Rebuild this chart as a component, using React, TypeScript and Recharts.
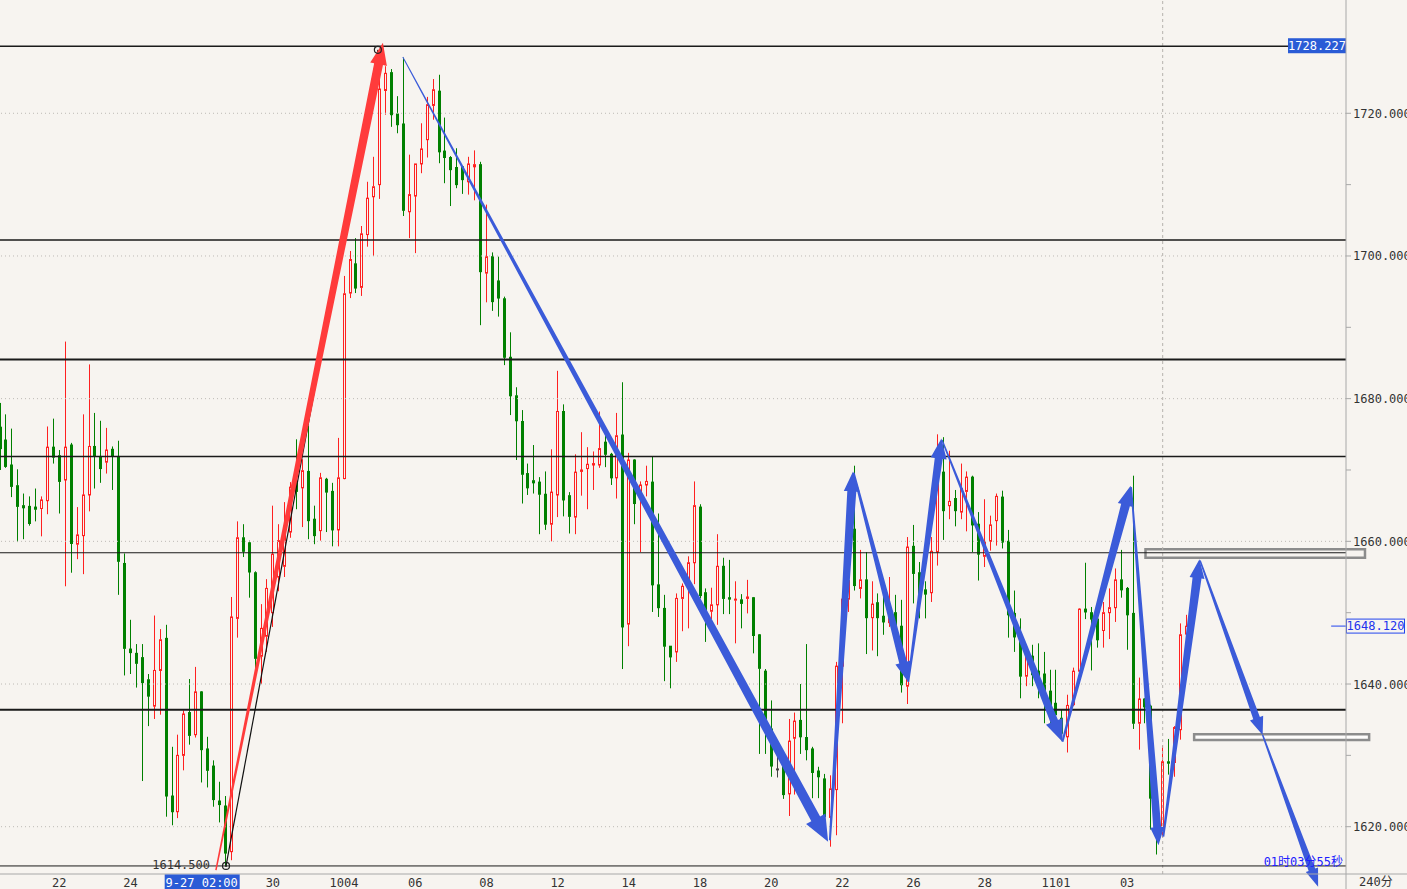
import React from 'react';
import { ComposedChart, Bar, XAxis, YAxis, ReferenceLine, ReferenceArea, ReferenceDot } from 'recharts';

// ---------- DATA ----------
const OPEN = [
  1676.0, 1674.2, 1670.7, 1667.8, 1665.0, 1664.9, 1664.8, 1664.6, 1665.7, 1673.2,
  1672.0, 1668.6, 1673.5, 1659.6, 1660.8, 1666.5, 1673.3, 1671.9, 1671.1, 1672.9,
  1671.9, 1656.9, 1644.9, 1644.3, 1643.7, 1640.6, 1636.9, 1641.9, 1646.4, 1624.3,
  1622.1, 1630.0, 1636.0, 1632.9, 1638.9, 1630.9, 1628.5, 1623.6, 1622.9, 1616.5,
  1649.2, 1660.5, 1659.8, 1655.6, 1643.9, 1646.7, 1650.0, 1655.0, 1656.5, 1661.3,
  1668.2, 1667.5, 1669.8, 1663.1, 1661.5, 1668.7, 1667.0, 1661.6, 1668.8, 1694.8,
  1698.9, 1695.6, 1703.0, 1708.3, 1710.0, 1723.2, 1725.7, 1719.9, 1718.5, 1706.2,
  1708.4, 1712.9, 1716.3, 1721.1, 1723.1, 1714.7, 1713.8, 1712.4, 1712.5, 1710.4,
  1712.5, 1712.8, 1697.6, 1699.9, 1696.5, 1694.0, 1685.8, 1680.4, 1676.8, 1669.5,
  1668.5, 1668.3, 1666.6, 1662.4, 1666.5, 1678.2, 1666.4, 1663.4, 1669.8, 1670.2,
  1670.7, 1670.7, 1673.9, 1672.2, 1668.9, 1674.9, 1648.4, 1671.4, 1666.0, 1667.9,
  1668.3, 1653.9, 1650.6, 1645.3, 1644.5, 1652.0, 1653.7, 1657.0, 1664.8, 1652.8,
  1650.2, 1651.1, 1656.5, 1652.1, 1651.8, 1651.8, 1652.0, 1652.1, 1646.9, 1641.8,
  1633.7, 1628.1, 1628.5, 1624.6, 1632.4, 1634.9, 1632.5, 1630.9, 1627.8, 1626.7,
  1621.3, 1625.2, 1642.5, 1651.9, 1661.7, 1653.4, 1654.6, 1649.3, 1651.4, 1649.5,
  1648.6, 1650.0, 1648.1, 1639.7, 1659.3, 1655.6, 1653.2, 1652.8, 1658.5, 1669.7,
  1665.0, 1666.0, 1664.1, 1667.0, 1669.0, 1662.4, 1657.9, 1660.0, 1662.9, 1666.2,
  1660.0, 1649.9, 1646.7, 1641.1, 1643.9, 1641.8, 1641.4, 1639.0, 1637.3, 1635.2,
  1632.6, 1637.1, 1641.8, 1650.5, 1650.0, 1649.1, 1647.5, 1650.0, 1650.7, 1654.6,
  1653.4, 1649.9, 1634.5, 1637.9, 1636.9, 1624.0, 1619.6, 1629.1, 1629.0, 1633.6,
  1647.0,
];
const HIGH = [
  1679.4, 1677.8, 1675.8, 1670.1, 1666.7, 1666.3, 1667.4, 1666.3, 1676.1, 1677.2,
  1672.8, 1688.0, 1673.8, 1664.8, 1677.8, 1684.8, 1678.0, 1676.9, 1675.9, 1673.3,
  1674.1, 1658.3, 1649.0, 1645.6, 1645.6, 1641.4, 1649.6, 1647.7, 1648.3, 1631.2,
  1632.9, 1636.3, 1640.7, 1642.4, 1639.0, 1632.6, 1629.3, 1626.3, 1624.3, 1652.2,
  1662.8, 1662.4, 1660.1, 1655.8, 1651.2, 1654.7, 1665.0, 1662.4, 1665.5, 1668.3,
  1674.3, 1671.5, 1676.2, 1665.0, 1669.6, 1668.9, 1668.2, 1674.5, 1697.2, 1700.7,
  1702.5, 1704.2, 1710.4, 1713.9, 1726.0, 1726.6, 1726.2, 1722.4, 1727.8, 1714.2,
  1712.9, 1718.6, 1722.3, 1724.8, 1725.4, 1719.4, 1714.0, 1715.1, 1712.6, 1713.9,
  1714.8, 1713.2, 1707.2, 1700.5, 1699.9, 1694.3, 1689.3, 1681.6, 1678.4, 1670.9,
  1673.5, 1669.0, 1669.8, 1672.9, 1683.9, 1679.2, 1666.9, 1672.2, 1675.3, 1673.2,
  1672.6, 1678.2, 1676.0, 1672.4, 1678.0, 1682.3, 1672.4, 1671.5, 1668.4, 1670.6,
  1671.9, 1663.9, 1652.5, 1645.3, 1652.7, 1654.1, 1657.9, 1668.4, 1665.2, 1653.4,
  1653.5, 1661.0, 1657.7, 1657.4, 1654.4, 1652.6, 1654.6, 1652.2, 1647.0, 1642.1,
  1637.7, 1629.9, 1629.5, 1635.1, 1636.0, 1640.0, 1645.6, 1631.2, 1628.4, 1627.4,
  1627.2, 1643.1, 1652.0, 1654.6, 1670.6, 1658.8, 1658.5, 1654.4, 1652.7, 1652.8,
  1655.0, 1652.5, 1651.8, 1660.6, 1662.3, 1657.1, 1654.4, 1660.6, 1675.0, 1674.6,
  1672.7, 1667.2, 1670.9, 1669.8, 1669.2, 1664.1, 1665.9, 1663.6, 1666.7, 1667.1,
  1661.6, 1653.1, 1649.2, 1644.4, 1645.5, 1645.7, 1644.5, 1642.0, 1642.0, 1636.4,
  1638.5, 1642.3, 1650.6, 1657.0, 1650.8, 1651.4, 1651.5, 1653.4, 1656.2, 1658.8,
  1653.6, 1669.2, 1640.9, 1638.0, 1637.1, 1625.5, 1631.4, 1632.3, 1634.1, 1648.5,
  1649.7,
];
const LOW = [
  1670.0, 1670.3, 1666.2, 1659.9, 1660.3, 1662.2, 1662.8, 1660.7, 1663.8, 1670.9,
  1663.9, 1653.7, 1655.6, 1657.5, 1655.4, 1664.2, 1667.4, 1668.2, 1669.5, 1667.2,
  1652.5, 1641.2, 1641.4, 1639.5, 1626.4, 1634.1, 1635.1, 1635.7, 1621.4, 1620.2,
  1621.2, 1627.9, 1631.5, 1632.5, 1626.2, 1625.5, 1622.8, 1620.6, 1614.5, 1615.3,
  1646.5, 1657.8, 1652.1, 1641.5, 1640.0, 1644.5, 1648.0, 1653.0, 1655.0, 1660.5,
  1664.5, 1662.0, 1660.3, 1659.6, 1660.1, 1661.3, 1659.3, 1659.3, 1668.7, 1694.1,
  1694.8, 1694.4, 1701.3, 1700.0, 1708.0, 1719.8, 1718.1, 1717.2, 1705.6, 1702.5,
  1700.4, 1711.6, 1713.8, 1719.1, 1713.0, 1710.2, 1707.0, 1709.5, 1708.7, 1708.6,
  1707.8, 1690.3, 1693.5, 1692.3, 1691.5, 1684.7, 1677.7, 1671.4, 1665.3, 1666.5,
  1666.7, 1661.0, 1661.6, 1660.0, 1663.4, 1663.5, 1661.1, 1661.0, 1666.4, 1664.5,
  1667.2, 1670.3, 1670.4, 1667.9, 1666.0, 1642.1, 1645.3, 1662.4, 1658.5, 1666.3,
  1650.1, 1649.4, 1640.4, 1639.4, 1643.1, 1647.4, 1647.8, 1654.0, 1652.0, 1645.9,
  1649.1, 1648.3, 1649.8, 1649.8, 1645.7, 1647.8, 1649.9, 1644.3, 1630.2, 1630.2,
  1627.0, 1626.9, 1623.9, 1621.5, 1624.5, 1630.2, 1629.3, 1624.0, 1624.0, 1621.3,
  1617.2, 1618.8, 1634.5, 1650.1, 1653.1, 1652.0, 1644.2, 1644.7, 1643.9, 1646.9,
  1648.0, 1646.1, 1638.8, 1637.2, 1651.3, 1649.2, 1649.2, 1651.5, 1656.6, 1660.2,
  1663.1, 1662.1, 1663.1, 1661.4, 1658.5, 1654.5, 1656.4, 1658.7, 1659.4, 1659.0,
  1646.5, 1644.5, 1638.0, 1639.7, 1639.7, 1638.0, 1634.5, 1634.5, 1635.4, 1632.1,
  1630.4, 1636.9, 1641.5, 1649.1, 1641.9, 1645.1, 1645.1, 1646.3, 1648.7, 1652.1,
  1644.8, 1633.7, 1630.8, 1634.5, 1619.6, 1616.1, 1618.5, 1627.3, 1627.0, 1632.2,
  1645.5,
];
const CLOSE = [
  1673.0, 1670.5, 1667.7, 1664.9, 1664.7, 1662.5, 1664.5, 1665.8, 1673.2, 1671.8,
  1668.4, 1673.2, 1659.7, 1660.9, 1666.5, 1673.3, 1671.9, 1670.2, 1672.8, 1671.9,
  1657.2, 1645.0, 1644.4, 1642.9, 1640.2, 1638.3, 1641.9, 1646.2, 1624.3, 1622.1,
  1630.0, 1635.8, 1632.8, 1638.9, 1630.8, 1627.9, 1623.8, 1623.1, 1616.3, 1649.4,
  1660.5, 1658.6, 1655.7, 1643.6, 1647.8, 1653.4, 1658.2, 1660.1, 1661.3, 1667.6,
  1667.0, 1669.9, 1662.9, 1660.8, 1668.9, 1666.9, 1661.6, 1668.9, 1694.7, 1699.5,
  1695.5, 1703.1, 1708.1, 1709.7, 1723.4, 1725.6, 1719.8, 1718.4, 1706.4, 1708.6,
  1712.9, 1715.0, 1721.2, 1723.3, 1714.6, 1713.8, 1712.1, 1710.0, 1710.7, 1712.9,
  1712.8, 1697.8, 1699.9, 1693.6, 1694.1, 1685.8, 1680.4, 1676.9, 1669.4, 1667.5,
  1668.2, 1666.6, 1662.4, 1666.9, 1678.2, 1665.8, 1663.5, 1669.7, 1670.0, 1670.8,
  1670.9, 1673.0, 1672.2, 1668.9, 1674.8, 1648.0, 1671.4, 1665.3, 1667.9, 1668.4,
  1653.9, 1650.7, 1645.3, 1643.8, 1652.0, 1653.7, 1657.0, 1665.0, 1652.4, 1649.6,
  1651.1, 1656.5, 1652.0, 1651.9, 1651.9, 1651.3, 1652.2, 1646.8, 1642.2, 1633.3,
  1628.5, 1628.1, 1624.5, 1632.0, 1634.8, 1632.6, 1630.8, 1627.6, 1627.0, 1621.4,
  1625.3, 1642.5, 1651.9, 1654.5, 1653.8, 1654.6, 1649.3, 1651.2, 1649.3, 1648.7,
  1649.8, 1648.0, 1639.9, 1659.2, 1655.5, 1652.4, 1652.6, 1658.6, 1669.7, 1664.3,
  1665.6, 1664.3, 1667.4, 1669.0, 1662.3, 1658.2, 1659.9, 1662.3, 1666.3, 1659.9,
  1649.7, 1646.6, 1641.1, 1643.9, 1641.3, 1640.1, 1638.0, 1635.9, 1635.7, 1633.1,
  1637.0, 1641.8, 1650.5, 1650.1, 1649.1, 1646.2, 1650.0, 1650.7, 1654.6, 1653.2,
  1649.7, 1634.5, 1637.9, 1636.8, 1624.0, 1619.6, 1629.1, 1628.9, 1633.9, 1646.9,
  1648.1,
];

const X_TICKS = [10, 22, 34, 46, 58, 70, 82, 94, 106, 118, 130, 142, 154, 166, 178, 190];
const X_LABELS = ['22', '24', '9-27 02:00', '30', '1004', '06', '08', '12', '14', '18', '20', '22', '26', '28', '1101', '03'];
const Y_TICKS = [1620, 1630, 1640, 1650, 1660, 1670, 1680, 1690, 1700, 1710, 1720];
const Y_LABELED = [1620, 1640, 1660, 1680, 1700, 1720];
const LEVELS = [1729.4, 1702.25, 1685.5, 1671.9, 1658.4, 1636.4, 1614.5];
const TOP_LEVEL_LABEL = '1728.227';
const LAST_PRICE = 1648.12;
const LOW_POINT = [38.1, 1614.5];
const HIGH_POINT = [63.7, 1728.9];
const CURSOR_INDEX = 196;
const HIGHLIGHT_TICK = 34;
// arrows: [fromIndex, fromPrice, toIndex, toPrice]
const ARROWS = [
  [36.4, 1613.9, 64.55, 1729.9],
  [67.9, 1727.9, 139.6, 1617.9],
  [139.9, 1618.1, 143.8, 1669.8],
  [143.9, 1669.6, 153.1, 1640.3],
  [153.1, 1640.3, 158.7, 1674.4],
  [158.8, 1674.2, 179.1, 1631.9],
  [179.1, 1631.9, 190.6, 1667.8],
  [190.7, 1667.6, 195.3, 1617.4],
  [196.1, 1618.6, 202.2, 1657.5],
  [202.3, 1657.3, 212.85, 1632.85],
  [212.85, 1632.85, 222.2, 1611.6],
];
// boxes: [fromIndex, toIndex, lowPrice, highPrice]
const BOXES = [
  [193.1, 230.1, 1657.7, 1658.88],
  [201.3, 230.8, 1632.15, 1632.95],
];

// ---------- STYLE ----------
const BG = '#f7f4f0';
const RED = '#ff2020';
const GREEN = '#008000';
const BLUE = '#3b5bd9';
const ARROW_RED = '#ff3b3b';
const FONT = '"DejaVu Sans Mono", "Liberation Mono", monospace';
const X_MAX = 226.9;
const Y_MIN = 1613.37;
const Y_MAX = 1735.88;
const ARROW_STYLE = [
  { color: ARROW_RED, tw: 1.5, sw: 9, hw: 17, hl: 22 },
  { color: BLUE, tw: 1, sw: 10, hw: 22, hl: 26 },
  { color: BLUE, tw: 2, sw: 9, hw: 16, hl: 20 },
  { color: BLUE, tw: 2, sw: 8, hw: 16, hl: 20 },
  { color: BLUE, tw: 2, sw: 8, hw: 16, hl: 20 },
  { color: BLUE, tw: 1.5, sw: 8, hw: 18, hl: 22 },
  { color: BLUE, tw: 2, sw: 9, hw: 16, hl: 20 },
  { color: BLUE, tw: 1.5, sw: 8, hw: 14, hl: 18 },
  { color: BLUE, tw: 2, sw: 9, hw: 15, hl: 19 },
  { color: BLUE, tw: 1.5, sw: 7, hw: 14, hl: 18 },
  { color: BLUE, tw: 1.5, sw: 7, hw: 13, hl: 18 },
];
const LEVEL_WIDTH = [1.5, 1.5, 2, 1.5, 1, 2, 1];

const rows = OPEN.map((o, i) => ({ i, o, h: HIGH[i], l: LOW[i], c: CLOSE[i], range: [LOW[i], HIGH[i]] }));

const Candle = (props: any) => {
  const { x, y, width, height, payload } = props;
  if (x == null || payload == null) return null;
  const { o, h, l, c } = payload;
  const top = Math.min(y, y + height);
  const hh = Math.abs(height);
  const k = h - l > 0 ? hh / (h - l) : 0;
  const yOf = (v: number) => top + (h - v) * k;
  const n = Math.floor(x + width / 2);
  const cx = n + 0.5;
  const up = c > o;
  const doji = c === o;
  const color = doji ? '#444' : up ? RED : GREEN;
  const bTop = yOf(Math.max(o, c));
  const bBot = yOf(Math.min(o, c));
  const bh = Math.max(bBot - bTop, 1);
  return (
    <g>
      <line x1={cx} x2={cx} y1={top} y2={bTop} stroke={color} strokeWidth={1} />
      <line x1={cx} x2={cx} y1={bTop + bh} y2={top + hh} stroke={color} strokeWidth={1} />
      {up ? (
        <rect x={n - 0.5} y={bTop} width={2} height={bh} fill={BG} stroke={color} strokeWidth={1} />
      ) : (
        <rect x={n - 1} y={bTop - 0.5} width={3} height={bh + 1} fill={color} />
      )}
    </g>
  );
};

const makeArrow = (st: any) => (p: any) => {
  const { x1, y1, x2, y2 } = p;
  const dx = x2 - x1, dy = y2 - y1;
  const len = Math.sqrt(dx * dx + dy * dy) || 1;
  const ux = dx / len, uy = dy / len;
  const nx = -uy, ny = ux;
  const bx = x2 - ux * st.hl, by = y2 - uy * st.hl;
  const pts = [
    [x1 + nx * st.tw / 2, y1 + ny * st.tw / 2],
    [bx + nx * st.sw / 2, by + ny * st.sw / 2],
    [bx + nx * st.hw / 2, by + ny * st.hw / 2],
    [x2, y2],
    [bx - nx * st.hw / 2, by - ny * st.hw / 2],
    [bx - nx * st.sw / 2, by - ny * st.sw / 2],
    [x1 - nx * st.tw / 2, y1 - ny * st.tw / 2],
  ];
  return <polygon points={pts.map((q) => q.join(',')).join(' ')} fill={st.color} />;
};

const XTick = (props: any) => {
  const { x, y, payload } = props;
  const idx = X_TICKS.indexOf(payload.value);
  const label = X_LABELS[idx] ?? '';
  const hl = payload.value === HIGHLIGHT_TICK;
  return (
    <g>
      {hl && <rect x={x - 37} y={y + 0.5} width={75} height={15} fill="#2a5bd6" />}
      <text x={x} y={y + 9} textAnchor="middle" dominantBaseline="middle" fontFamily={FONT} fontSize={12} fill={hl ? '#ffffff' : '#333333'}>
        {label}
      </text>
    </g>
  );
};

const YTick = (props: any) => {
  const { x, y, payload } = props;
  if (!Y_LABELED.includes(payload.value)) return <g />;
  return (
    <text x={x} y={y + 1} textAnchor="start" dominantBaseline="middle" fontFamily={FONT} fontSize={12} fill="#333333">
      {payload.value.toFixed(3)}
    </text>
  );
};

const TopLevelShape = (p: any) => {
  const left = Math.min(p.x1, p.x2);
  const right = Math.max(p.x1, p.x2);
  const y = p.y1;
  return (
    <g>
      <line x1={left} x2={right - 58} y1={y} y2={y} stroke="#1a1a1a" strokeWidth={1.5} />
      <rect x={right - 58} y={y - 8} width={58} height={15} fill="#2a5bd6" />
      <text x={right - 29} y={y} textAnchor="middle" dominantBaseline="middle" fontFamily={FONT} fontSize={12} fill="#ffffff">
        {TOP_LEVEL_LABEL}
      </text>
    </g>
  );
};

const LastPriceShape = (p: any) => {
  const left = Math.min(p.x1, p.x2);
  const right = Math.max(p.x1, p.x2);
  const y = p.y1;
  return (
    <g>
      <line x1={left} x2={right} y1={y} y2={y} stroke="#2244ee" strokeWidth={1} />
      <rect x={right + 0.5} y={y - 7} width={58} height={14} fill={BG} stroke="#2244ee" strokeWidth={1} />
      <text x={right + 29.5} y={y + 0.5} textAnchor="middle" dominantBaseline="middle" fontFamily={FONT} fontSize={12} fill="#2233ee">
        {LAST_PRICE.toFixed(3)}
      </text>
    </g>
  );
};

const LowMarker = (p: any) => {
  const { cx, cy } = p;
  return (
    <g>
      <text x={cx - 16} y={cy} textAnchor="end" dominantBaseline="middle" fontFamily={FONT} fontSize={12} fill="#333333">
        {LOW_POINT[1].toFixed(3)}
      </text>
      <circle cx={cx} cy={cy} r={3.5} fill="none" stroke="#222" strokeWidth={1.2} />
      <circle cx={cx} cy={cy} r={1} fill="#222" />
    </g>
  );
};

const HighMarker = (p: any) => {
  const { cx, cy } = p;
  return <circle cx={cx} cy={cy} r={3.5} fill="none" stroke="#222" strokeWidth={1.2} />;
};

const Countdown = (p: any) => {
  const { cx, cy } = p;
  return (
    <text x={cx - 3} y={cy} textAnchor="end" dominantBaseline="middle" fontFamily={'"DejaVu Sans Mono", "Noto Sans CJK SC", monospace'} fontSize={12} fill="#2020ff">
      01时03分55秒
    </text>
  );
};

export default function App() {
  return (
    <div style={{ position: 'absolute', left: 0, top: 0, width: 1407, height: 889, background: BG, overflow: 'hidden' }}>
      <ComposedChart width={1407} height={889} data={rows} margin={{ top: 0, right: 0, bottom: 0, left: 0 }}>
        <XAxis
          dataKey="i"
          type="number"
          domain={[0, X_MAX]}
          ticks={X_TICKS}
          allowDataOverflow
          tickLine={false}
          tickSize={0}
          tickMargin={0}
          height={15}
          interval={0}
          stroke="#a8a8a8"
          tick={<XTick />}
          label={{ value: '240分', position: 'right', offset: 13, fill: '#333', fontSize: 12, fontFamily: '"DejaVu Sans Mono", "Noto Sans CJK SC", monospace' }}
        />
        <YAxis
          orientation="right"
          type="number"
          domain={[Y_MIN, Y_MAX]}
          ticks={Y_TICKS}
          allowDataOverflow
          width={61}
          tickSize={5}
          tickMargin={2}
          interval={0}
          stroke="#a8a8a8"
          tick={<YTick />}
        />
        {Y_LABELED.map((v) => (
          <ReferenceLine key={'g' + v} y={v} stroke="#bdbab5" strokeDasharray="1 3" strokeWidth={1} />
        ))}
        <ReferenceLine x={CURSOR_INDEX} stroke="#b5b2ad" strokeDasharray="3 3" strokeWidth={1} />
        {LEVELS.map((v, k) =>
          k === 0 ? (
            <ReferenceLine key={'l' + k} y={v} ifOverflow="visible" shape={TopLevelShape} />
          ) : (
            <ReferenceLine key={'l' + k} y={v} stroke="#1a1a1a" strokeWidth={LEVEL_WIDTH[k]} />
          )
        )}
        <ReferenceLine
          segment={[{ x: X_MAX, y: Y_MIN }, { x: X_MAX, y: Y_MIN - 2.2 }]}
          ifOverflow="visible"
          stroke="#a8a8a8"
        />
        <ReferenceLine
          segment={[{ x: X_MAX, y: Y_MIN }, { x: X_MAX + 10.5, y: Y_MIN }]}
          ifOverflow="visible"
          stroke="#a8a8a8"
        />
        <Bar dataKey="range" barSize={4} shape={Candle} isAnimationActive={false} />
        <ReferenceLine
          segment={[{ x: LOW_POINT[0], y: LOW_POINT[1] }, { x: HIGH_POINT[0], y: HIGH_POINT[1] }]}
          ifOverflow="visible"
          stroke="#111"
          strokeWidth={1.2}
        />
        <ReferenceDot x={LOW_POINT[0]} y={LOW_POINT[1]} ifOverflow="visible" shape={LowMarker} />
        <ReferenceDot x={HIGH_POINT[0]} y={HIGH_POINT[1]} ifOverflow="visible" shape={HighMarker} />
        <ReferenceDot x={X_MAX} y={1614.95} ifOverflow="visible" shape={Countdown} />
        {BOXES.map((b, k) => (
          <ReferenceArea
            key={'b' + k}
            x1={b[0]}
            x2={b[1]}
            y1={b[2]}
            y2={b[3]}
            ifOverflow="visible"
            fill={k === 1 ? '#ffffff' : 'none'}
            fillOpacity={k === 1 ? 0.8 : 0}
            stroke="#8c8c8c"
            strokeWidth={2.5}
          />
        ))}
        {ARROWS.map((a, k) => (
          <ReferenceLine
            key={'a' + k}
            segment={[{ x: a[0], y: a[1] }, { x: a[2], y: a[3] }]}
            ifOverflow="visible"
            shape={makeArrow(ARROW_STYLE[k])}
          />
        ))}
        <ReferenceLine
          segment={[{ x: 224.4, y: LAST_PRICE }, { x: X_MAX, y: LAST_PRICE }]}
          ifOverflow="visible"
          shape={LastPriceShape}
        />
      </ComposedChart>
    </div>
  );
}
